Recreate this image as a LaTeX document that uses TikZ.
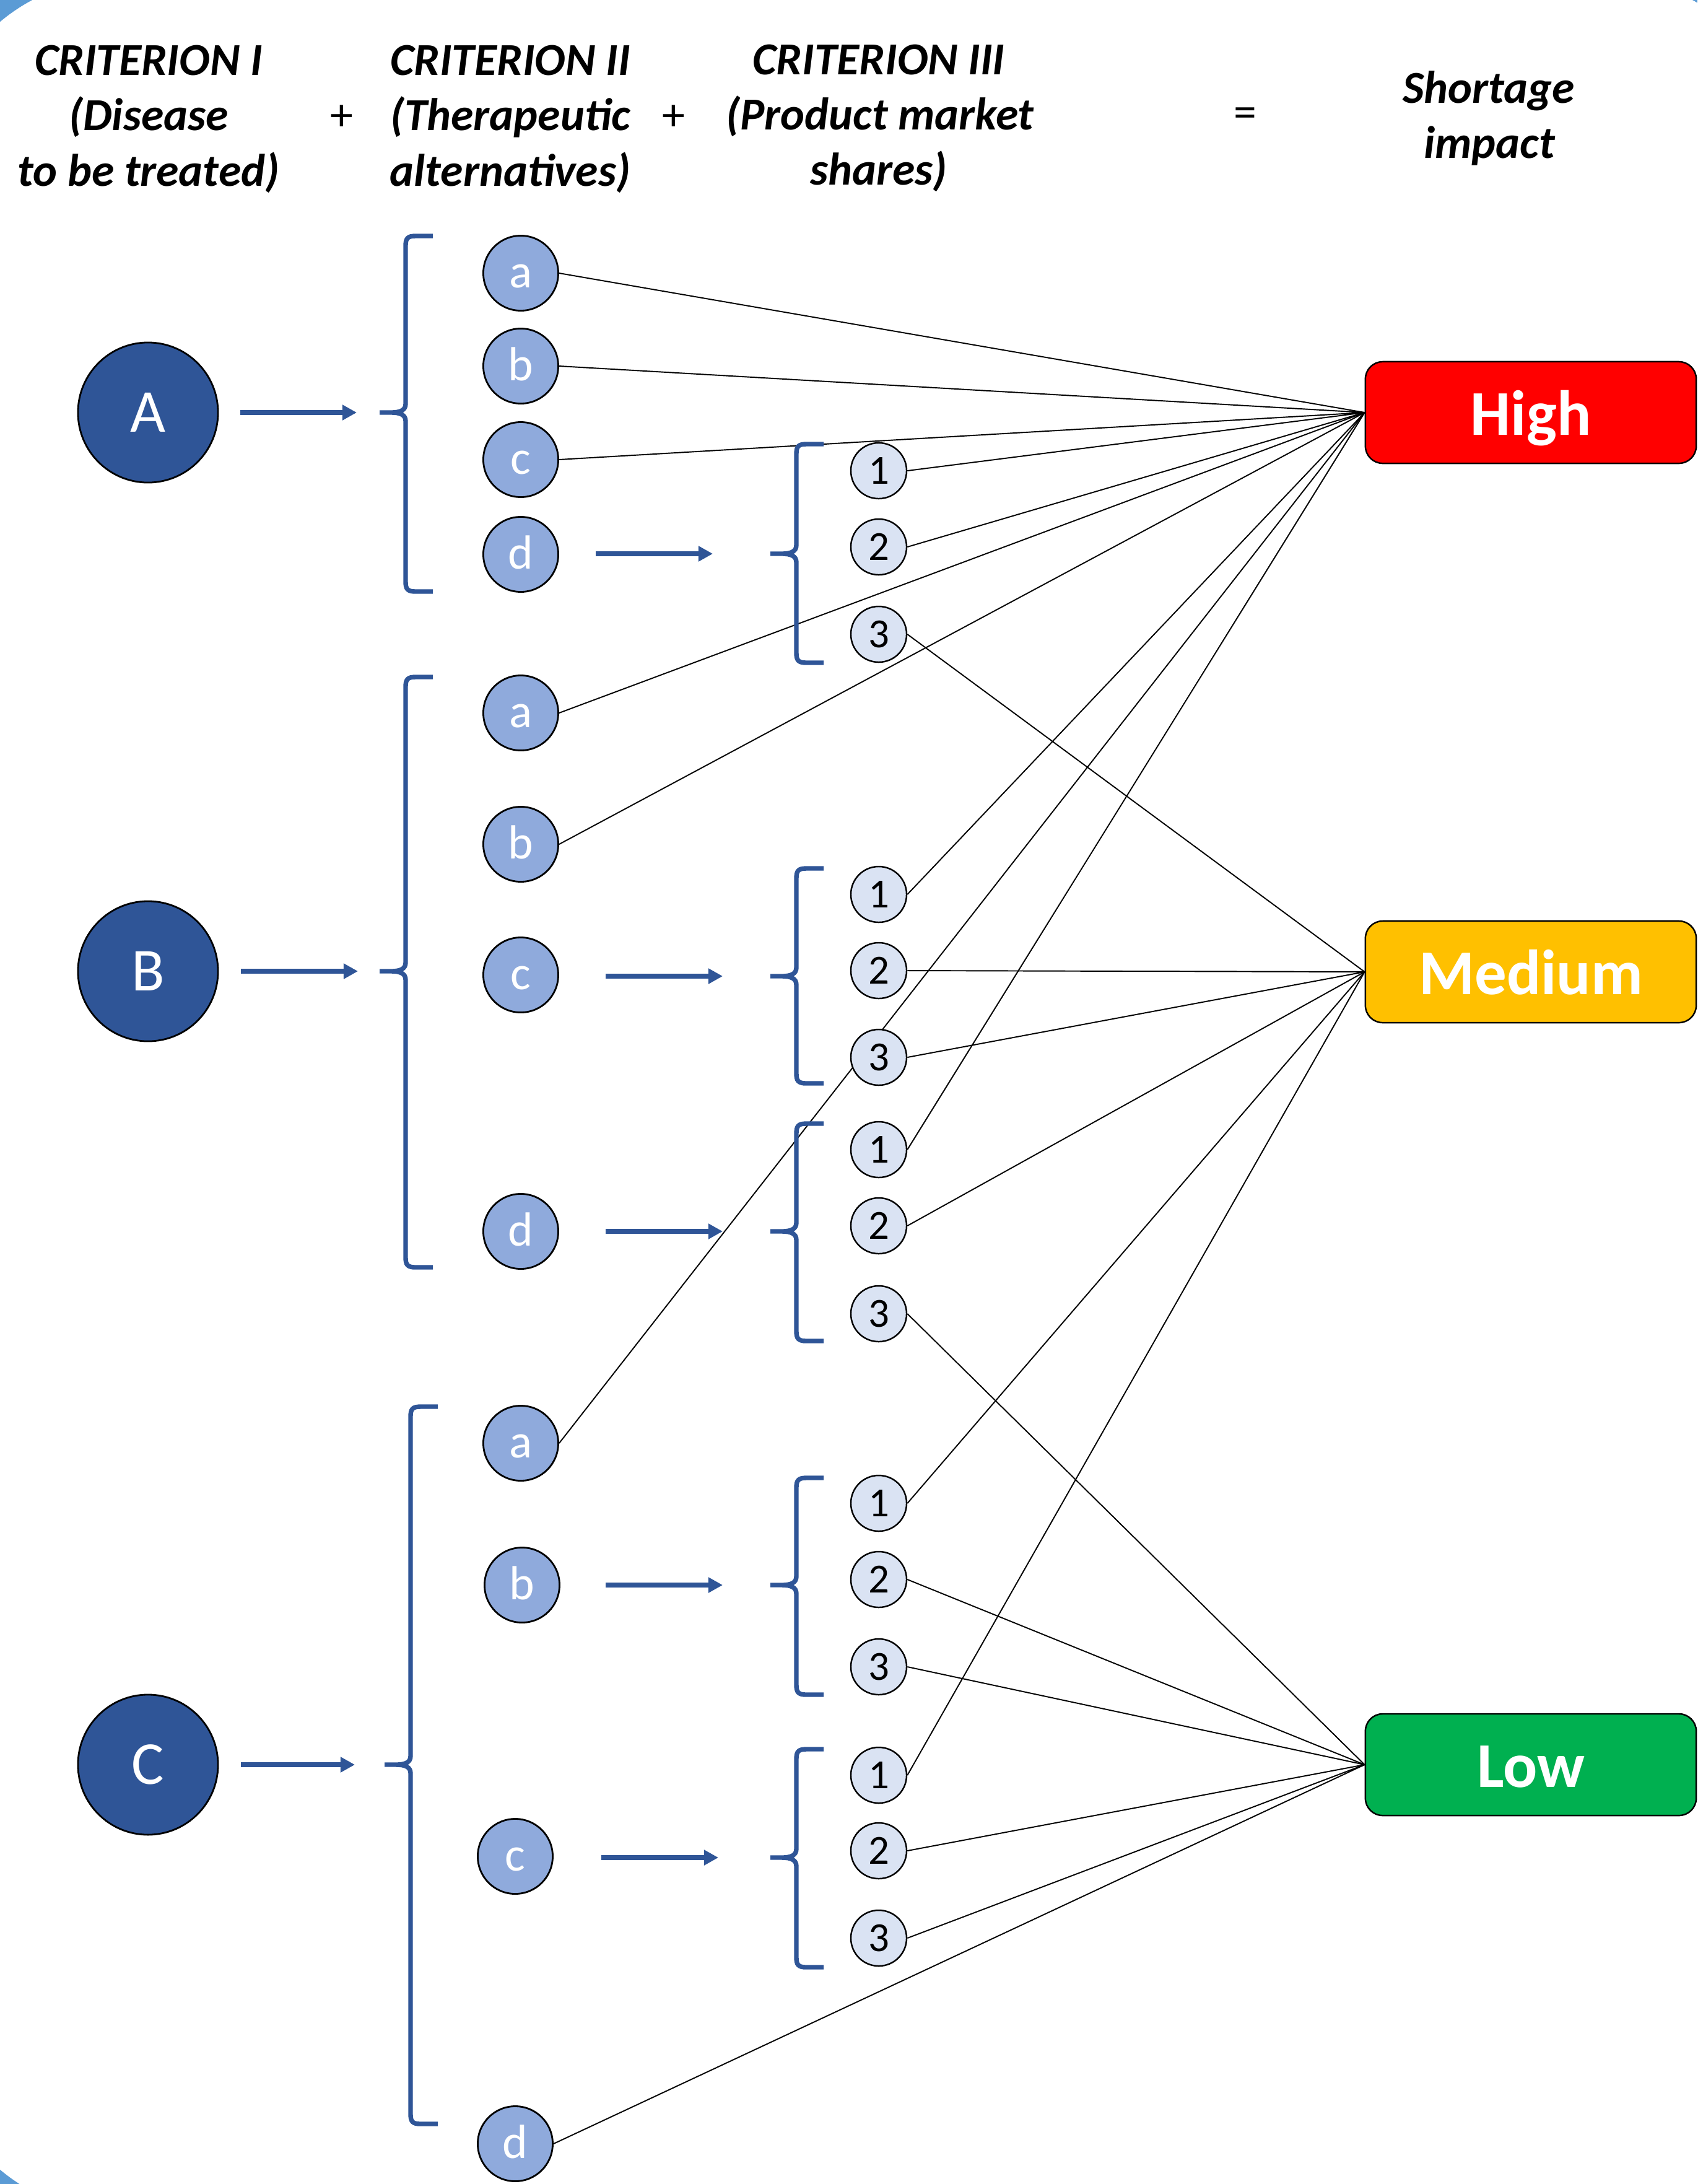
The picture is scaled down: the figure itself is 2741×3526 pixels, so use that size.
\documentclass[tikz,border=0pt]{standalone}
\usepackage{fontspec}
\setmainfont{Carlito}
\usetikzlibrary{arrows.meta}
\pgfdeclarelayer{frame}
\pgfdeclarelayer{lines}
\pgfsetlayers{frame,lines,main}
\definecolor{dkblue}{HTML}{2F5597}
\definecolor{ltblue}{HTML}{8FAADC}
\definecolor{paleblue}{HTML}{DAE3F3}
\definecolor{cornerblue}{HTML}{5B9BD5}
\definecolor{hired}{HTML}{FF0000}
\definecolor{medamber}{HTML}{FFC000}
\definecolor{logreen}{HTML}{00B050}
\newcommand\mybrace[4]{%
  \draw[bracestyle] ({#1+44},#2) -- ({#1+16},#2) .. controls ({#1+3},#2) and (#1,{#2+4}) .. (#1,{#2+16})
    -- (#1,{#3-14}) .. controls (#1,{#3-4}) and ({#1-8},#3) .. ({#1-24},#3) -- ({#1-42},#3)
    ({#1-24},#3) .. controls ({#1-8},#3) and (#1,{#3+4}) .. (#1,{#3+14})
    -- (#1,{#4-16}) .. controls (#1,{#4-4}) and ({#1+3},#4) .. ({#1+16},#4) -- ({#1+44},#4);}
\begin{document}
\begin{tikzpicture}[x=0.01cm,y=-0.01cm,
  bigc/.style={circle, draw=black, line width=0.8pt, fill=dkblue, minimum size=2.26cm, inner sep=0pt, text=white, font=\fontsize{28}{30}\selectfont},
  letc/.style={circle, draw=black, line width=0.8pt, fill=ltblue, minimum size=1.21cm, inner sep=0pt, text=white, text height=15pt, text depth=1.4pt, font=\fontsize{22}{24}\selectfont},
  numc/.style={circle, draw=black, line width=0.7pt, fill=paleblue, minimum size=0.9cm, inner sep=0pt, font=\fontsize{19}{20}\selectfont},
  impbox/.style={rectangle, rounded corners=0.28cm, draw=black, line width=0.7pt, minimum width=5.34cm, minimum height=1.64cm, inner sep=0pt, text=white, text height=20.5pt, text depth=0pt, font=\bfseries\fontsize{29.3}{30}\selectfont},
  hdr/.style={anchor=base, inner sep=0pt, font=\fontsize{21}{25.6}\selectfont\bfseries\itshape},
  sym/.style={inner sep=0pt, font=\fontsize{21}{25}\selectfont},
  conn/.style={draw=black, line width=0.55pt},
  arr/.style={draw=dkblue, line width=2.35pt, -{Triangle[length=6.6pt,width=6.8pt]}},
  bracestyle/.style={draw=dkblue, line width=2.1pt, line join=round, line cap=butt}]
\useasboundingbox (0,0) rectangle (2741,3526);
\begin{pgfonlayer}{frame}
  \fill[cornerblue] (0,0) rectangle (2741,3526);
  \fill[white, rounded corners=3cm] (-107,-35) rectangle (2892,3573);
\end{pgfonlayer}

% headers
\node[hdr] (h1a) at (240,121) {CRITERION I};
\node[hdr] (h1b) at (240,210) {(Disease};
\node[hdr] (h1c) at (240,300) {to be treated)};
\node[sym] (p1) at (552,190) {+};
\node[hdr] (h2a) at (824,121) {CRITERION II};
\node[hdr] (h2b) at (824,210) {(Therapeutic};
\node[hdr] (h2c) at (824,300) {alternatives)};
\node[sym] (p2) at (1088,190) {+};
\node[hdr] (h3a) at (1419,120) {CRITERION III};
\node[hdr] (h3b) at (1421,209) {(Product market};
\node[hdr] (h3c) at (1419,298) {shares)};
\node[sym] (eq) at (2011,190) {=};
\node[hdr] (h4a) at (2404,166) {Shortage};
\node[hdr] (h4b) at (2405,255) {impact};

% criterion I
\node[bigc] (A) at (239,666) {A};
\node[bigc] (B) at (239,1568) {B};
\node[bigc] (C) at (239,2849) {C};

% criterion II
\node[letc] (Aa) at (841,441) {a};
\node[letc] (Ab) at (841,591) {b};
\node[letc] (Ac) at (841,742) {c};
\node[letc] (Ad) at (841,895) {d};
\node[letc] (Ba) at (841,1151) {a};
\node[letc] (Bb) at (841,1363) {b};
\node[letc] (Bc) at (841,1574) {c};
\node[letc] (Bd) at (841,1988) {d};
\node[letc] (Ca) at (841,2330) {a};
\node[letc] (Cb) at (843,2559) {b};
\node[letc] (Cc) at (832,2997) {c};
\node[letc] (Cd) at (832,3461) {d};

% criterion III
\node[numc] (Ad1) at (1419,760) {1};
\node[numc] (Ad2) at (1419,883) {2};
\node[numc] (Ad3) at (1419,1024) {3};
\node[numc] (Bc1) at (1419,1444) {1};
\node[numc] (Bc2) at (1419,1567) {2};
\node[numc] (Bc3) at (1419,1707) {3};
\node[numc] (Bd1) at (1419,1856) {1};
\node[numc] (Bd2) at (1419,1979) {2};
\node[numc] (Bd3) at (1419,2121) {3};
\node[numc] (Cb1) at (1419,2427) {1};
\node[numc] (Cb2) at (1419,2550) {2};
\node[numc] (Cb3) at (1419,2691) {3};
\node[numc] (Cc1) at (1419,2866) {1};
\node[numc] (Cc2) at (1419,2988) {2};
\node[numc] (Cc3) at (1419,3129) {3};

% impact boxes
\node[impbox, fill=hired] (High) at (2472,666) {High};
\node[impbox, fill=medamber] (Medium) at (2472,1569) {Medium};
\node[impbox, fill=logreen] (Low) at (2472,2849) {Low};

% braces
\mybrace{655}{381}{666}{955}
\mybrace{655}{1093}{1568}{2046}
\mybrace{663}{2271}{2849}{3429}
\mybrace{1286}{717}{894}{1070}
\mybrace{1286}{1402}{1576}{1749}
\mybrace{1286}{1814}{1988}{2165}
\mybrace{1286}{2386}{2559}{2736}
\mybrace{1286}{2824}{2999}{3176}

% arrows
\coordinate (sA) at (388,666);  \coordinate (tA) at (576,666);
\coordinate (sB) at (389,1568); \coordinate (tB) at (578,1568);
\coordinate (sC) at (389,2849); \coordinate (tC) at (573,2849);
\coordinate (sAd) at (962,894);  \coordinate (tAd) at (1151,894);
\coordinate (sBc) at (978,1576); \coordinate (tBc) at (1167,1576);
\coordinate (sBd) at (978,1988); \coordinate (tBd) at (1167,1988);
\coordinate (sCb) at (978,2559); \coordinate (tCb) at (1167,2559);
\coordinate (sCc) at (971,2999); \coordinate (tCc) at (1160,2999);
\draw[arr] (sA) -- (tA);
\draw[arr] (sB) -- (tB);
\draw[arr] (sC) -- (tC);
\draw[arr] (sAd) -- (tAd);
\draw[arr] (sBc) -- (tBc);
\draw[arr] (sBd) -- (tBd);
\draw[arr] (sCb) -- (tCb);
\draw[arr] (sCc) -- (tCc);

% connectors
\begin{pgfonlayer}{lines}
  \foreach \n in {Aa,Ab,Ac,Ad1,Ad2,Ba,Bb,Bc1,Ca,Bd1}
    \draw[conn] (\n.east) -- (High.west);
  \foreach \n in {Ad3,Bc2,Bc3,Bd2,Cb1,Cc1}
    \draw[conn] (\n.east) -- (Medium.west);
  \foreach \n in {Bd3,Cb2,Cb3,Cc2,Cc3,Cd}
    \draw[conn] (\n.east) -- (Low.west);
\end{pgfonlayer}
\end{tikzpicture}
\end{document}
